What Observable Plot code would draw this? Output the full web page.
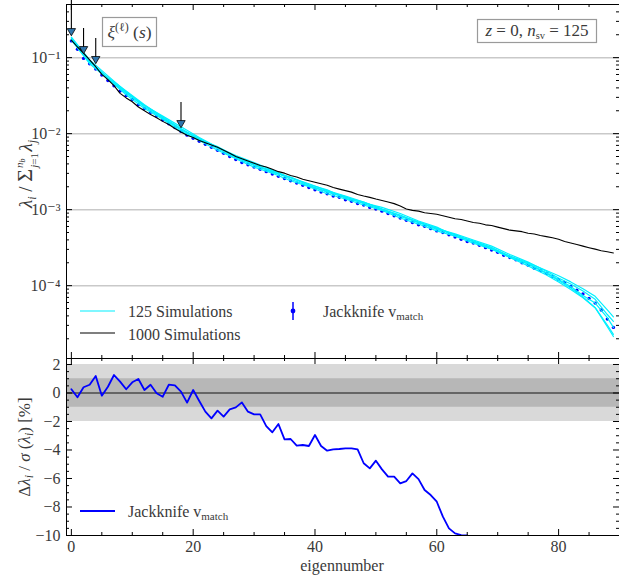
<!DOCTYPE html>
<html><head><meta charset="utf-8">
<script src="https://cdn.jsdelivr.net/npm/d3@7"></script>
<script src="https://cdn.jsdelivr.net/npm/@observablehq/plot@0.6"></script>
<style>
body{margin:0;background:#fff;}
#fig{position:relative;width:619px;height:577px;overflow:hidden;background:#fff;}
#fig > svg{position:absolute;left:0;}
#fig svg text{font-family:"Liberation Serif","DejaVu Serif",serif;}
</style></head><body><div id="fig"></div>
<script>
// ---- data ----
// Jackknife v_match eigenvalues, eigennumber 0..89
const jackknife = [0.166,0.129,0.0977,0.0832,0.0708,0.0589,0.0501,0.0427,0.0363,0.0316,
0.0282,0.0240,0.0214,0.0191,0.0170,0.0151,0.0135,0.0120,0.0107,0.00955,
0.00871,0.00794,0.00724,0.00661,0.00603,0.00550,0.00501,0.00457,0.00417,0.00389,
0.00363,0.00339,0.00316,0.00295,0.00275,0.00257,0.00240,0.00224,0.00209,0.00195,
0.00182,0.00170,0.00162,0.00151,0.00145,0.00135,0.00129,0.00120,0.00115,0.00107,
0.00102,0.000955,0.000891,0.000832,0.000776,0.000724,0.000676,0.000631,0.000603,0.000562,
0.000525,0.000501,0.000468,0.000437,0.000407,0.000380,0.000363,0.000339,0.000316,0.000295,
0.000275,0.000251,0.000234,0.000219,0.000200,0.000186,0.000170,0.000158,0.000145,0.000132,
0.000120,0.000110,0.0000977,0.0000871,0.0000776,0.0000676,0.0000589,0.0000479,0.0000363,0.0000282];
// 1000 simulations, eigennumber 0..89
const sims1000 = [0.170,0.138,0.115,0.0933,0.0759,0.0603,0.0513,0.0427,0.0339,0.0295,
0.0263,0.0224,0.0200,0.0178,0.0162,0.0145,0.0132,0.0117,0.0105,0.00955,
0.00891,0.00813,0.00759,0.00708,0.00661,0.00603,0.00550,0.00501,0.00468,0.00437,
0.00407,0.00380,0.00363,0.00339,0.00316,0.00302,0.00282,0.00269,0.00251,0.00240,
0.00229,0.00219,0.00209,0.00195,0.00186,0.00178,0.00170,0.00158,0.00151,0.00145,
0.00138,0.00132,0.00126,0.00120,0.00112,0.00102,0.000977,0.000955,0.000912,0.000891,
0.000871,0.000832,0.000794,0.000759,0.000741,0.000708,0.000676,0.000661,0.000631,0.000617,
0.000589,0.000562,0.000537,0.000525,0.000513,0.000490,0.000479,0.000457,0.000442,0.000427,
0.000407,0.000380,0.000363,0.000347,0.000331,0.000316,0.000302,0.000288,0.000279,0.000269];
// 125 simulations: individual realisations, read at these eigennumbers
const simGrid = [0,3,6,9,12,15,18,21,24,27,30,33,36,39,42,45,48,51,54,57,60,63,66,69,72,75,78,80,82,84,86,88,89];
const sim125a = [0.170,0.0832,0.0525,0.0324,0.0214,0.0155,0.0107,0.00813,0.00603,0.00468,0.00363,0.00302,0.00240,0.00200,0.00162,0.00138,0.00115,0.000977,0.000776,0.000646,0.000525,0.000447,0.000363,0.000302,0.000234,0.000182,0.000138,0.000112,0.0000891,0.0000692,0.0000513,0.0000288,0.0000214];
const sim125b = [0.178,0.0912,0.0525,0.0339,0.0234,0.0162,0.0112,0.00851,0.00661,0.00490,0.00380,0.00316,0.00263,0.00209,0.00170,0.00145,0.00126,0.00102,0.000813,0.000676,0.000575,0.000468,0.000380,0.000316,0.000245,0.000200,0.000158,0.000135,0.000112,0.0000912,0.0000724,0.0000479,0.0000389];
const sim125c = [0.186,0.0933,0.0575,0.0355,0.0234,0.0170,0.0123,0.00891,0.00661,0.00513,0.00417,0.00331,0.00263,0.00219,0.00178,0.00151,0.00126,0.00102,0.000851,0.000676,0.000550,0.000468,0.000380,0.000302,0.000245,0.000191,0.000145,0.000117,0.0000933,0.0000708,0.0000513,0.0000302,0.0000229];
const sim125d = [0.174,0.0891,0.0537,0.0347,0.0224,0.0158,0.0115,0.00871,0.00631,0.00479,0.00389,0.00324,0.00251,0.00204,0.00174,0.00148,0.00120,0.00100,0.000832,0.000692,0.000562,0.000479,0.000398,0.000331,0.000257,0.000204,0.000155,0.000126,0.000105,0.0000851,0.0000661,0.0000417,0.0000339];
const sim125e = [0.182,0.0871,0.0550,0.0363,0.0240,0.0166,0.0117,0.00832,0.00676,0.00501,0.00398,0.00309,0.00269,0.00214,0.00182,0.00141,0.00123,0.00107,0.000891,0.000708,0.000589,0.000447,0.000389,0.000316,0.000234,0.000195,0.000148,0.000120,0.0000977,0.0000741,0.0000589,0.0000380,0.0000282];
// residual panel: Δλ/σ(λ) [%] for jackknife, eigennumber 0..65
const residual = [0.26,-0.3,0.4,0.58,1.19,-0.19,0.44,1.26,0.8,0.26,
0.75,0.98,0.21,0.58,-0.02,-0.26,0.58,0.54,0.1,-0.68,
0.21,-0.56,-1.31,-1.78,-1.24,-1.66,-1.15,-1.01,-0.66,-1.31,
-1.5,-1.5,-2.32,-2.76,-2.18,-3.25,-3.23,-3.7,-3.65,-3.72,
-2.95,-3.72,-4.05,-3.95,-3.93,-3.88,-3.88,-3.95,-4.93,-5.29,
-4.75,-5.36,-5.87,-5.87,-6.34,-6.18,-5.64,-6.04,-6.81,-7.16,
-7.63,-8.68,-9.5,-9.85,-9.97,-10.0];
// arrows marking eigennumbers
const arrowEig = [0, 2, 4, 18];
const arrowTail = [0.6, 0.241, 0.178, 0.0256];
const arrowHead = [0.224, 0.130, 0.0962, 0.0138];
// bands in residual panel
const bandOuter = [-2, 2];
const bandInner = [-1, 1];
// ticks
const xMajor = [0, 20, 40, 60, 80];
const xMinor = [5, 10, 15, 25, 30, 35, 45, 50, 55, 65, 70, 75, 85];
const yTopMajor = [1e-4, 1e-3, 1e-2, 1e-1];
const yTopLabels = ["10⁻⁴", "10⁻³", "10⁻²", "10⁻¹"];
const yBotMajor = [-10, -8, -6, -4, -2, 0, 2];
const yBotLabels = ["−10", "−8", "−6", "−4", "−2", "0", "2"];

// ---- layout ----
const W = 619, ML = 66, MR = 0;
const FW = W - ML - MR;
const XDOM = [-0.8, 90];
const YTOP = [1.1e-5, 0.5];
const YBOT = [-10, 2.42];
const font = "Liberation Serif";
const txt = "#3a3a3a";

const yTopMinor = [1e-5, 1e-4, 1e-3, 1e-2, 1e-1]
  .flatMap(d => [2,3,4,5,6,7,8,9].map(k => k * d))
  .filter(v => v >= YTOP[0] && v <= YTOP[1]);
const yBotMinor = d3.range(-9.5, 2.42, 0.5).filter(v => !yBotMajor.includes(v));

function edgeTicks(xMaj, xMin, yMaj, yMin, fh) {
  const s = {stroke: "black", strokeWidth: 1};
  return [
    Plot.tickX(xMaj, {x: d => d, insetBottom: fh - 6, ...s}),
    Plot.tickX(xMaj, {x: d => d, insetTop: fh - 6, ...s}),
    Plot.tickX(xMin, {x: d => d, insetBottom: fh - 3, ...s}),
    Plot.tickX(xMin, {x: d => d, insetTop: fh - 3, ...s}),
    Plot.tickY(yMaj, {y: d => d, insetRight: FW - 6, ...s}),
    Plot.tickY(yMaj, {y: d => d, insetLeft: FW - 6, ...s}),
    Plot.tickY(yMin, {y: d => d, insetRight: FW - 3, ...s}),
    Plot.tickY(yMin, {y: d => d, insetLeft: FW - 3, ...s})
  ];
}

const jkData = jackknife.map((v, i) => ({i, v}));
const blackData = sims1000.map((v, i) => ({i, v}));
const cyanData = [sim125a, sim125b, sim125c, sim125d, sim125e]
  .flatMap((arr, k) => arr.map((v, j) => ({run: k, i: simGrid[j], v})));
const arrows = arrowEig.map((x, k) => ({x, tail: arrowTail[k], head: arrowHead[k]}));
const resData = residual.map((v, i) => ({i, v}));

const TOPH = 360, TMT = 4, TMB = 2;
const topFH = TOPH - TMT - TMB;
const topPlot = Plot.plot({
  width: W, height: TOPH,
  marginLeft: ML, marginRight: MR, marginTop: TMT, marginBottom: TMB,
  x: {domain: XDOM},
  y: {type: "log", domain: YTOP},
  style: {fontFamily: font, fontSize: "16px", color: txt, background: "transparent", overflow: "visible"},
  marks: [
    Plot.ruleY(yTopMajor, {stroke: "#c9c9c9", strokeWidth: 1.5}),
    Plot.dot(jkData, {x: "i", y: "v", r: 1.7, fill: "#0000ff", stroke: null}),
    Plot.line(cyanData, {x: "i", y: "v", z: "run", stroke: "#00f0ff", strokeWidth: 1.2}),
    Plot.line(blackData, {x: "i", y: "v", stroke: "black", strokeWidth: 1.1}),
    Plot.ruleX(arrows, {x: "x", y1: "tail", y2: "head", stroke: "black", strokeWidth: 1.1}),
    Plot.dot(arrows, {x: "x", y: "head", symbol: "triangle", rotate: 180, r: 3.1, fill: "#2f75ad", stroke: "black", strokeWidth: 0.8}),
    Plot.axisY({ticks: yTopMajor, tickFormat: d => yTopLabels[yTopMajor.indexOf(d)], tickSize: 0, tickPadding: 6, label: null}),
    Plot.axisX({ticks: [], label: null}),
    ...edgeTicks(xMajor, xMinor, yTopMajor, yTopMinor, topFH),
    Plot.frame({stroke: "black", strokeWidth: 1})
  ]
});
topPlot.style.top = "0px";

const BOTH = 220, BMT = 1, BMB = 42;
const botFH = BOTH - BMT - BMB;
const botPlot = Plot.plot({
  width: W, height: BOTH,
  marginLeft: ML, marginRight: MR, marginTop: BMT, marginBottom: BMB,
  x: {domain: XDOM},
  y: {domain: YBOT},
  style: {fontFamily: font, fontSize: "16px", color: txt, background: "transparent", overflow: "visible"},
  marks: [
    Plot.rect([bandOuter], {y1: d => d[0], y2: d => d[1], fill: "#d9d9d9"}),
    Plot.rect([bandInner], {y1: d => d[0], y2: d => d[1], fill: "#b7b7b7"}),
    Plot.ruleY([0], {stroke: "#4a4a4a", strokeWidth: 1.5}),
    Plot.line(resData, {x: "i", y: "v", stroke: "#0000ff", strokeWidth: 1.8, clip: true}),
    Plot.axisY({ticks: yBotMajor, tickFormat: d => yBotLabels[yBotMajor.indexOf(d)], tickSize: 0, tickPadding: 6, label: null}),
    Plot.axisX({ticks: xMajor, tickFormat: d => String(d), tickSize: 0, tickPadding: 5, label: null}),
    ...edgeTicks(xMajor, xMinor, yBotMajor, yBotMinor, botFH),
    Plot.frame({stroke: "black", strokeWidth: 1})
  ]
});
botPlot.style.top = "357px";

const fig = document.getElementById("fig");
fig.appendChild(topPlot);
fig.appendChild(botPlot);

// ---- overlay: labels, annotation boxes, legends ----
const ov = d3.select(fig).append("svg")
  .attr("width", W).attr("height", 577)
  .style("position", "absolute").style("left", "0px").style("top", "0px")
  .attr("fill", txt);

function mtext(x, y, parts, {size = 15.5, anchor = "start", rotate = 0} = {}) {
  const t = ov.append("text")
    .attr("transform", `translate(${x},${y}) rotate(${rotate})`)
    .attr("text-anchor", anchor).attr("font-size", size);
  for (const p of parts) {
    const s = t.append("tspan").text(p.t);
    if (p.i) s.attr("font-style", "italic");
    if (p.s) s.attr("font-size", p.s);
    if (p.dy) s.attr("dy", p.dy);
    if (p.dx) s.attr("dx", p.dx);
  }
  return t;
}

// y label top
mtext(32, 174, [
  {t: "λ", i: 1}, {t: "i", i: 1, s: 12, dy: 4}, {t: " / ", dy: -4},
  {t: "Σ", s: 22}, {t: "j", i: 1, s: 11, dy: 6, dx: 1}, {t: "=1", s: 11},
  {t: "n", i: 1, s: 11, dx: -15, dy: -15}, {t: "b", i: 1, s: 8, dy: 2},
  {t: "λ", i: 1, dx: 7, dy: 7}, {t: "j", i: 1, s: 12, dy: 4}
], {size: 19, anchor: "middle", rotate: -90});
// y label bottom
mtext(30, 447, [
  {t: "Δ"}, {t: "λ", i: 1}, {t: "i", i: 1, s: 12, dy: 3}, {t: " / ", dy: -3},
  {t: "σ", i: 1}, {t: " ("}, {t: "λ", i: 1}, {t: "i", i: 1, s: 12, dy: 3}, {t: ")   [%]", dy: -3}
], {size: 17, anchor: "middle", rotate: -90});
// x label
mtext(342, 571, [{t: "eigennumber"}], {size: 16, anchor: "middle"});

// annotation boxes
ov.append("rect").attr("x", 102.5).attr("y", 17.5).attr("width", 54).attr("height", 29)
  .attr("fill", "white").attr("stroke", "#9a9a9a").attr("stroke-width", 1.2);
mtext(129.5, 38, [{t: "ξ", i: 1}, {t: "(ℓ)", s: 12, dy: -7}, {t: " (", dy: 7}, {t: "s", i: 1}, {t: ")"}], {size: 17.5, anchor: "middle"});
ov.append("rect").attr("x", 477.5).attr("y", 19.5).attr("width", 119).attr("height", 23)
  .attr("fill", "white").attr("stroke", "#9a9a9a").attr("stroke-width", 1.2);
mtext(537, 36, [{t: "z", i: 1}, {t: " = 0, "}, {t: "n", i: 1}, {t: "sv", s: 10.5, dy: 3}, {t: " = 125", dy: -3}], {size: 17, anchor: "middle"});

// legend top
ov.append("line").attr("x1", 80).attr("x2", 115).attr("y1", 311).attr("y2", 311).attr("stroke", "#00f0ff").attr("stroke-width", 1.2);
mtext(128, 317, [{t: "125 Simulations"}], {size: 16});
ov.append("line").attr("x1", 80).attr("x2", 115).attr("y1", 333).attr("y2", 333).attr("stroke", "black").attr("stroke-width", 1.1);
mtext(128, 339.5, [{t: "1000 Simulations"}], {size: 16});
ov.append("line").attr("x1", 293).attr("x2", 293).attr("y1", 302).attr("y2", 320).attr("stroke", "#0000ff").attr("stroke-width", 1.5);
ov.append("circle").attr("cx", 293).attr("cy", 311).attr("r", 2.4).attr("fill", "#0000ff");
mtext(323, 317, [{t: "Jackknife v"}, {t: "match", s: 11, dy: 3}], {size: 16});
// legend bottom
ov.append("line").attr("x1", 80).attr("x2", 115).attr("y1", 511).attr("y2", 511).attr("stroke", "#0000ff").attr("stroke-width", 2);
mtext(128, 517, [{t: "Jackknife v"}, {t: "match", s: 11, dy: 3}], {size: 16});
</script></body></html>
